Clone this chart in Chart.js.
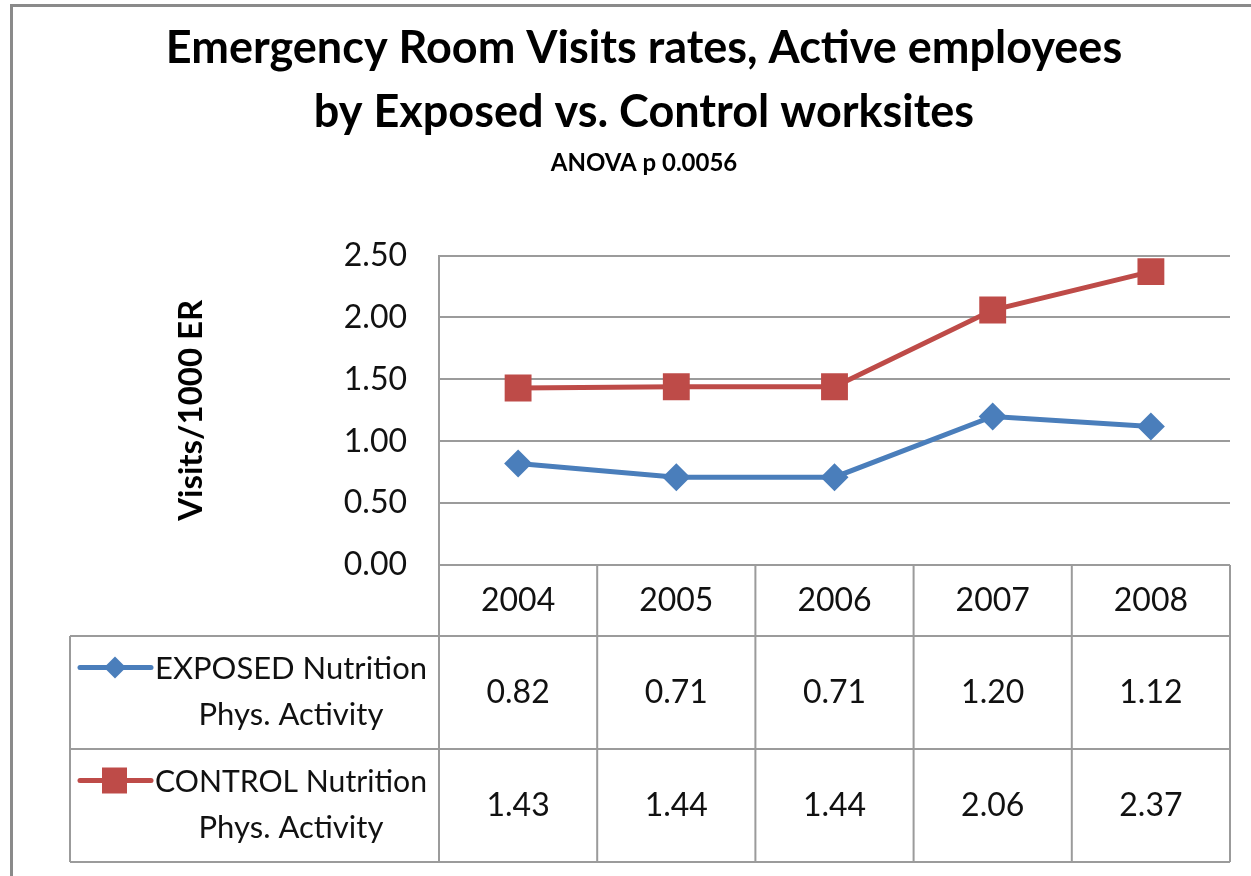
<!DOCTYPE html>
<html>
<head>
<title>Emergency Room Visits rates</title>
<style>
  body { margin: 0; background: #fff; }
</style>
</head>
<body>
<script src="https://cdn.jsdelivr.net/npm/chart.js"></script>

<canvas id="myChart" width="1251" height="876"></canvas>

<script>
const YEARS = ['2004', '2005', '2006', '2007', '2008'];
const EXPOSED = [0.82, 0.71, 0.71, 1.20, 1.12];
const CONTROL = [1.43, 1.44, 1.44, 2.06, 2.37];
const SERIES_NAMES = [
  ['EXPOSED Nutrition', 'Phys. Activity'],
  ['CONTROL Nutrition', 'Phys. Activity']
];
const Y_MIN = 0;
const Y_MAX = 2.5;
const Y_STEP = 0.5;

const BLUE = '#4A7EBB';
const RED = '#BE4B48';
const GRID = '#9b9b9b';
const FONT = 'Lato, "Open Sans", sans-serif';

// grey frame round the picture + white background
const framePlugin = {
  id: 'frame',
  beforeDraw(chart) {
    const ctx = chart.ctx;
    ctx.save();
    ctx.fillStyle = '#fff';
    ctx.fillRect(0, 0, chart.width, chart.height);
    ctx.fillStyle = '#8a8a8a';
    ctx.fillRect(10, 4, chart.width - 10, 3);
    ctx.fillRect(10, 4, 3, chart.height - 4);
    ctx.restore();
  }
};

// data table under the plot (years, legend keys, values)
const tablePlugin = {
  id: 'dataTable',
  afterDraw(chart) {
    const ctx = chart.ctx;
    const xs = chart.scales.x;
    const area = chart.chartArea;
    const half = (xs.getPixelForValue(1) - xs.getPixelForValue(0)) / 2;
    const tableLeft = 70;
    const headTop = area.bottom;
    const headBot = headTop + 71;
    const rowH = 113;
    const tableBot = headBot + rowH * chart.data.datasets.length;

    ctx.save();
    ctx.strokeStyle = GRID;
    ctx.lineWidth = 2;
    ctx.beginPath();
    // horizontal lines
    ctx.moveTo(area.left, headTop); ctx.lineTo(area.right, headTop);
    for (let r = 0; r <= chart.data.datasets.length; r++) {
      const y = headBot + r * rowH;
      ctx.moveTo(tableLeft, y); ctx.lineTo(area.right, y);
    }
    // vertical lines
    ctx.moveTo(tableLeft, headBot); ctx.lineTo(tableLeft, tableBot);
    ctx.moveTo(area.left, headTop); ctx.lineTo(area.left, tableBot);
    YEARS.forEach((y, i) => {
      const bx = xs.getPixelForValue(i) + half;
      ctx.moveTo(bx, headTop); ctx.lineTo(bx, tableBot);
    });
    ctx.stroke();

    ctx.fillStyle = '#111';
    ctx.textAlign = 'center';
    ctx.textBaseline = 'middle';
    ctx.font = '32px ' + FONT;
    YEARS.forEach((y, i) => {
      ctx.fillText(y, xs.getPixelForValue(i), (headTop + headBot) / 2);
    });

    chart.data.datasets.forEach((ds, r) => {
      const top = headBot + r * rowH;
      const mid = top + rowH / 2;
      ctx.font = '32px ' + FONT;
      ds.data.forEach((v, i) => {
        ctx.fillStyle = '#111';
        ctx.fillText(v.toFixed(2), xs.getPixelForValue(i), mid);
      });
      // series label, two lines
      const names = SERIES_NAMES[r];
      ctx.font = '31px ' + FONT;
      ctx.fillText(names[0], 291, mid - 24, 272);
      ctx.fillText(names[1], 291, mid + 22, 190);

      // legend key
      const ky = mid - 25;
      ctx.strokeStyle = ds.borderColor;
      ctx.lineWidth = 5;
      ctx.lineCap = 'round';
      ctx.beginPath();
      ctx.moveTo(80, ky); ctx.lineTo(151, ky);
      ctx.stroke();
      ctx.fillStyle = ds.borderColor;
      ctx.beginPath();
      if (ds.pointStyle === 'rectRot') {
        ctx.moveTo(115, ky - 11); ctx.lineTo(126, ky); ctx.lineTo(115, ky + 11); ctx.lineTo(104, ky);
      } else {
        ctx.rect(102, ky - 13, 25, 26);
      }
      ctx.closePath();
      ctx.fill();
      ctx.strokeStyle = GRID;
    });
    ctx.restore();
  }
};

const data = {
  labels: YEARS,
  datasets: [
    {
      label: SERIES_NAMES[0].join(' '),
      data: EXPOSED,
      borderColor: BLUE,
      backgroundColor: BLUE,
      borderWidth: 5,
      pointStyle: 'rectRot',
      pointRadius: 14,
      pointBorderWidth: 0,
      tension: 0
    },
    {
      label: SERIES_NAMES[1].join(' '),
      data: CONTROL,
      borderColor: RED,
      backgroundColor: RED,
      borderWidth: 5,
      pointStyle: 'rect',
      pointRadius: 19,
      pointBorderWidth: 0,
      tension: 0
    }
  ]
};

const config = {
  type: 'line',
  data: data,
  options: {
    responsive: false,
    animation: false,
    devicePixelRatio: 1,
    layout: { padding: { left: 58, right: 21, top: 0, bottom: 311 } },
    plugins: {
      legend: { display: false },
      tooltip: { enabled: false },
      title: {
        display: true,
        text: ['Emergency Room Visits rates, Active employees', 'by Exposed vs. Control worksites'],
        color: '#000',
        font: { family: FONT, size: 45, weight: 'bold', lineHeight: 1.42 },
        padding: { top: 17, bottom: 0 }
      },
      subtitle: {
        display: true,
        text: 'ANOVA p 0.0056',
        color: '#000',
        font: { family: FONT, size: 24, weight: 'bold', lineHeight: 1.2 },
        padding: { top: 4, bottom: 78 }
      }
    },
    scales: {
      x: {
        display: false,
        offset: true
      },
      y: {
        min: Y_MIN,
        max: Y_MAX,
        afterFit(scale) { scale.width = 381; },
        ticks: {
          stepSize: Y_STEP,
          padding: 32,
          color: '#111',
          font: { family: FONT, size: 32 },
          callback: v => v.toFixed(2)
        },
        grid: { color: GRID, lineWidth: 2, drawTicks: false },
        border: { color: GRID, width: 2 },
        title: {
          display: true,
          text: 'Visits/1000 ER',
          color: '#000',
          font: { family: FONT, size: 33, weight: 'bold', lineHeight: 1.2 },
          padding: { top: 114, bottom: 0 }
        }
      }
    }
  },
  plugins: [framePlugin, tablePlugin]
};

const ctx = document.getElementById('myChart');
const myChart = new Chart(ctx, config);
</script>
</body>
</html>
